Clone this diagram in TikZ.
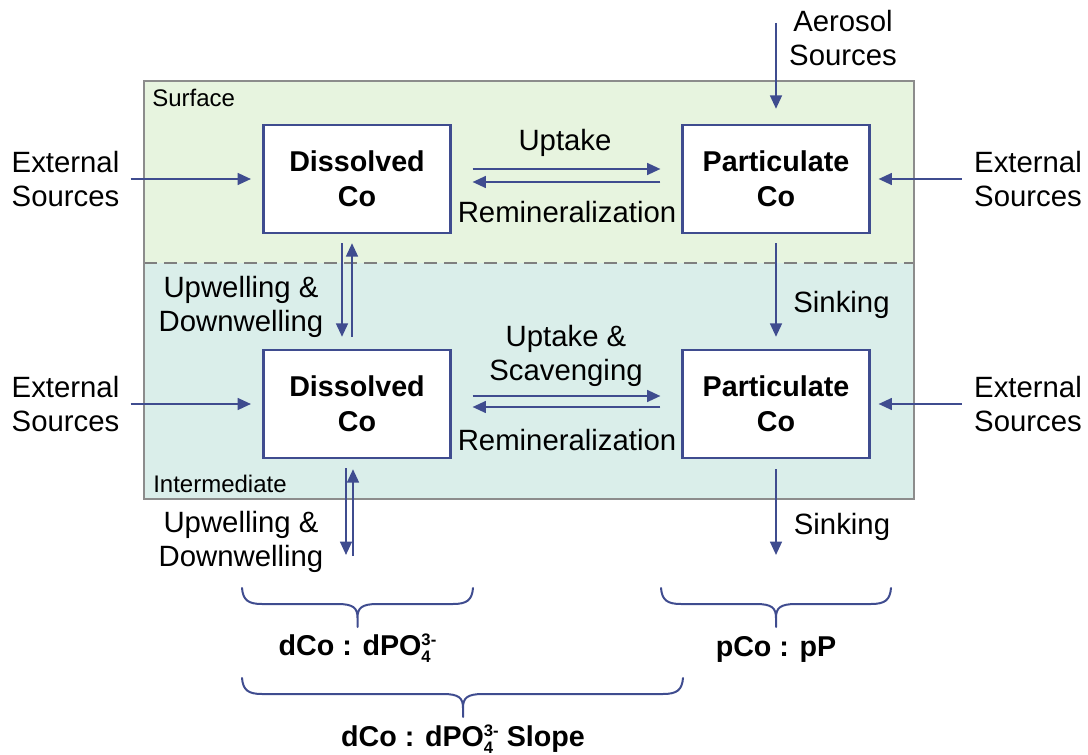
\documentclass[tikz,border=0pt]{standalone}
\usepackage{fontspec}
\setmainfont{Liberation Sans}
\usetikzlibrary{arrows.meta}
\definecolor{cblue}{HTML}{3F4C8F}
\definecolor{framegray}{HTML}{8C8C8C}
\definecolor{dashgray}{HTML}{7F7F7F}
\definecolor{surfgreen}{HTML}{E7F4DF}
\definecolor{interteal}{HTML}{DAEEEA}
\newcommand\smallsup[1]{{\fontsize{12.5}{12.5}\selectfont #1}}
\newcommand\dpofour{dPO\rlap{\raisebox{-5.25pt}{\smallsup{4}}}\raisebox{7pt}{\smallsup{3-}}}
\newcommand\pcbrace[4]{%
  \draw[bracestyle] (#1,#4) .. controls ({#1+1},{#4+12}) and ({#1+6},{#4+16}) .. ({#1+20},{#4+16})
    -- ({#3-20},{#4+16}) .. controls ({#3-4},{#4+16}) and (#3,{#4+20}) .. (#3,{#4+30}) -- (#3,{#4+39})
    (#3,{#4+30}) .. controls (#3,{#4+20}) and ({#3+4},{#4+16}) .. ({#3+20},{#4+16})
    -- ({#2-20},{#4+16}) .. controls ({#2-6},{#4+16}) and ({#2-1},{#4+12}) .. (#2,#4);}
\begin{document}
\begin{tikzpicture}[x=0.75pt,y=-0.75pt,
  lbl/.style={inner sep=0pt, align=center, font=\fontsize{22}{25.8}\selectfont},
  small/.style={inner sep=0pt, font=\fontsize{18}{21}\selectfont},
  bold/.style={inner sep=0pt, font=\bfseries\fontsize{21.5}{26}\selectfont},
  cobox/.style={draw=cblue, line width=1.8pt, fill=white, minimum width=140pt, minimum height=81pt,
    inner sep=0pt, align=center, font=\bfseries\fontsize{21.5}{26}\selectfont},
  arr/.style={draw=cblue, line width=1.6pt, -{Triangle[length=10pt,width=8.8pt]}},
  bracestyle/.style={draw=cblue, line width=1.5pt, line cap=round}]
\useasboundingbox (0,0) rectangle (1088,755);
% layers
\fill[surfgreen] (144,81) rectangle (914,263);
\fill[interteal] (144,263) rectangle (914,499);
\draw[dashgray, line width=1.7pt, dash pattern=on 9.75pt off 5.25pt] (144,263) -- (914,263);
\draw[framegray, line width=1.7pt] (144,81) rectangle (914,499);
\node[small, anchor=base west] (surf) at (152,107) {Surface};
\node[small, anchor=base west] (inter) at (153,492) {Intermediate};
% boxes
\node[cobox] (dS) at (357,179) {Dissolved\\Co};
\node[cobox] (pS) at (776,179) {Particulate\\Co};
\node[cobox] (dI) at (357,404) {Dissolved\\Co};
\node[cobox] (pI) at (776,404) {Particulate\\Co};
% external sources
\node[lbl] (extLS) at (65.5,179) {External\\Sources};
\node[lbl] (extRS) at (1028,179) {External\\Sources};
\node[lbl] (extLI) at (65.5,404) {External\\Sources};
\node[lbl] (extRI) at (1028,404) {External\\Sources};
\node[lbl] (aertxt) at (843,38) {Aerosol\\Sources};
\coordinate (aer) at (776,23);
% process labels
\node[lbl, anchor=base] (uptS) at (565,151) {Uptake};
\node[lbl, anchor=base] (remS) at (567,223) {Remineralization};
\node[lbl] (uptI) at (566,356) {Uptake \&\\Scavenging};
\node[lbl, anchor=base] (remI) at (567,450) {Remineralization};
\node[lbl, anchor=base] (sinkS) at (841.5,313) {Sinking};
\node[lbl, anchor=base] (sinkI) at (842,534) {Sinking};
\node[lbl] (updS) at (241,307) {Upwelling \&\\Downwelling};
\node[lbl] (updI) at (241,542) {Upwelling \&\\Downwelling};
% arrows
\draw[arr] ([xshift=8.25pt]extLS.east) -- ([xshift=-8.6pt]dS.west);
\draw[arr] ([xshift=8.25pt]extLI.east) -- ([xshift=-8.6pt]dI.west);
\draw[arr] ([xshift=-9pt]extRS.west) -- ([xshift=6pt]pS.east);
\draw[arr] ([xshift=-9pt]extRI.west) -- ([xshift=6pt]pI.east);
\draw[arr] (aer) -- ([yshift=11.25pt]pS.north);
\draw[arr] ([xshift=15.75pt,yshift=7.5pt]dS.east) -- ([xshift=-15.75pt,yshift=7.5pt]pS.west);
\draw[arr] ([xshift=-15.75pt,yshift=-2.25pt]pS.west) -- ([xshift=15.75pt,yshift=-2.25pt]dS.east);
\draw[arr] ([xshift=15.75pt,yshift=6pt]dI.east) -- ([xshift=-15.75pt,yshift=6pt]pI.west);
\draw[arr] ([xshift=-15.75pt,yshift=-2.25pt]pI.west) -- ([xshift=15.75pt,yshift=-2.25pt]dI.east);
\draw[arr] ([xshift=-11.25pt,yshift=-6.75pt]dS.south) -- ([xshift=-11.25pt,yshift=9pt]dI.north);
\draw[arr] ([xshift=-3.75pt,yshift=9pt]dI.north) -- ([xshift=-3.75pt,yshift=-6.75pt]dS.south);
\draw[arr] ([yshift=-6.75pt]pS.south) -- ([yshift=9pt]pI.north);
\coordinate (ddown) at (346,555);
\coordinate (dup) at (353,556);
\coordinate (sinkend) at (776,555);
\draw[arr] ([xshift=-8.25pt,yshift=-6.75pt]dI.south) -- (ddown);
\draw[arr] (dup) -- ([xshift=-3pt,yshift=-7.5pt]dI.south);
\draw[arr] ([yshift=-7.5pt]pI.south) -- (sinkend);
% braces
\pcbrace{242}{473}{357.5}{588}
\pcbrace{661}{891}{776}{588}
\pcbrace{242}{683}{463}{678}
\node[bold, anchor=base] (lab1) at (357.5,655) {dCo : \dpofour};
\node[bold, anchor=base] (lab2) at (776,656) {pCo : pP};
\node[bold, anchor=base] (lab3) at (463,746) {dCo : \dpofour{} Slope};
\end{tikzpicture}
\end{document}
